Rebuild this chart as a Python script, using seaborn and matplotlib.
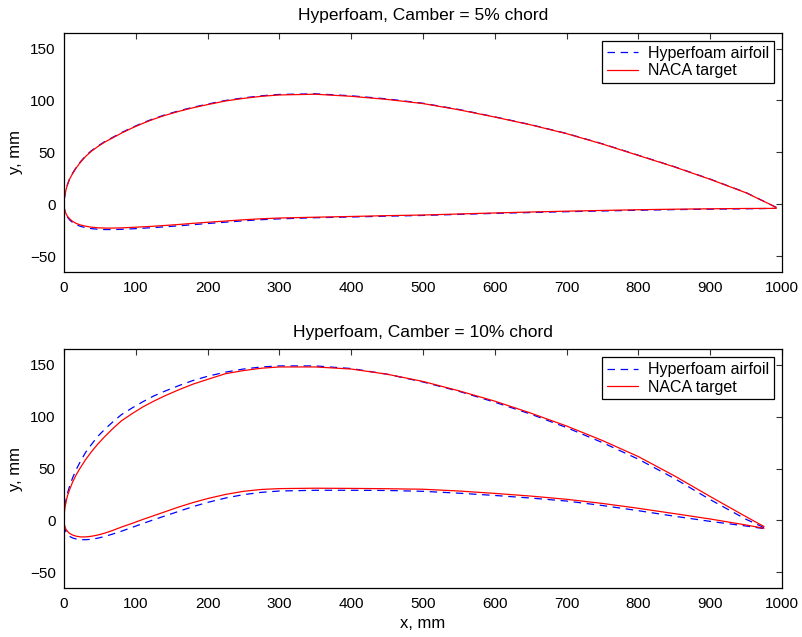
import numpy as np
import pandas as pd
import matplotlib
matplotlib.use("Agg")
import matplotlib.pyplot as plt
import seaborn as sns

# ---------------- data ----------------
titles = ["Hyperfoam, Camber = 5% chord", "Hyperfoam, Camber = 10% chord"]
series_names = ["Hyperfoam airfoil", "NACA target"]

# Camber 5 %  (x stations along chord, mm)
x5 = [0, 0.5, 1.5, 3, 5, 8, 12, 17, 23, 30, 38, 47, 57, 68, 80, 95, 110, 125, 140, 160,
      180, 200, 225, 250, 275, 300, 350, 400, 450, 500, 550, 600, 650, 700, 750, 800,
      850, 900, 950, 992]
naca5_upper = [0, 5.5, 10, 14.5, 19, 24.5, 29.5, 35, 40.5, 46, 51, 55.5, 60, 64, 68.5, 73.5,
               78, 82, 85.5, 89.5, 93, 96, 99.5, 102, 104, 105.3, 106, 104, 101, 97, 91, 84,
               76.5, 68, 58, 47, 36, 24, 11, -3]
hyper5_upper = [0, 5.5, 10.2, 14.8, 19.4, 25, 30, 35.5, 41, 46.5, 51.5, 56, 60.5, 64.5, 69,
                74, 78.5, 82.5, 86, 90, 93.5, 96.5, 100, 102.5, 104.5, 105.8, 106.4, 104.5,
                101.5, 97.3, 91.3, 84.2, 76.7, 68.2, 58.2, 47.2, 36.2, 24.2, 11.2, -3]
naca5_lower = [0, -4, -6.8, -9.5, -11.8, -14.2, -16.5, -18.5, -20, -21.2, -22.1, -22.7, -23,
               -23, -22.8, -22.3, -21.8, -21.2, -20.5, -19.5, -18.4, -17.4, -16.2, -15, -14,
               -13.3, -12.5, -11.8, -11, -10.4, -9.4, -8.4, -7.5, -6.7, -6, -5.3, -4.8,
               -4.4, -4.1, -4]
hyper5_lower = [0, -4.3, -7.3, -10.2, -12.6, -15.2, -17.6, -19.7, -21.3, -22.6, -23.5, -24.1,
                -24.4, -24.4, -24.2, -23.7, -23.1, -22.5, -21.8, -20.8, -19.7, -18.6, -17.3,
                -16, -14.9, -14.1, -13, -12.3, -11.5, -10.8, -9.8, -8.8, -8, -7.2, -6.5,
                -5.8, -5.2, -4.8, -4.4, -4]

# Camber 10 %
x10 = [0, 0.5, 1.5, 3, 5, 8, 12, 17, 23, 30, 38, 47, 57, 68, 80, 95, 110, 125, 140, 160,
       180, 200, 225, 250, 275, 300, 350, 400, 450, 500, 550, 600, 650, 700, 750, 800,
       850, 900, 950, 975]
naca10_upper = [0, 7.5, 13, 18.5, 24, 30, 37, 44, 51, 58.5, 66, 73.5, 81, 88.5, 96, 103,
                109.5, 115, 120, 126, 131.5, 136, 141.5, 144.5, 146.8, 148, 148, 146, 141,
                134, 125, 115, 103.5, 91, 77, 61.5, 43, 23, 3.5, -6]
hyper10_upper = [0, 8, 14.5, 20.5, 26.5, 33.5, 41, 49, 57, 65.5, 73, 81, 88, 95, 102, 108.5,
                 114.5, 120, 124.5, 130, 135, 139, 143, 146, 148, 149, 149, 146.5, 141,
                 133.5, 124.5, 114, 102.5, 89.5, 75, 59, 40.5, 20, 1, -7]
naca10_lower = [0, -4, -6.8, -9, -10.8, -12.7, -14.2, -15.3, -16, -16, -15.4, -14.2, -12.3,
                -9.7, -6.5, -2.9, 0.9, 4.5, 8.1, 12.9, 17.2, 21, 25, 28, 29.8, 30.6, 31,
                30.8, 30.5, 30, 28.3, 26, 23.4, 20.3, 16.3, 11.6, 6.5, 1.3, -4.5, -7.7]
hyper10_lower = [0, -5, -9, -11.5, -13.5, -15.6, -17, -18, -18.6, -18.7, -18.3, -17.2, -15.5,
                 -13.2, -10.5, -6.8, -3, 0.6, 4.1, 8.7, 13.3, 17.3, 21.5, 24.8, 27, 28.3, 29,
                 29, 28.8, 28, 26.2, 24, 21.5, 18.6, 14.3, 9.3, 4, -1, -5.5, -8]

x_ticks = [0, 100, 200, 300, 400, 500, 600, 700, 800, 900, 1000]
y_ticks = [-50, 0, 50, 100, 150]


def contour(xs, upper, lower):
    # trailing edge -> leading edge along the upper surface, then back along the lower
    xx = list(xs[::-1]) + list(xs[1:])
    yy = list(upper[::-1]) + list(lower[1:])
    return xx, yy


def frame(xs, hyp_u, hyp_l, naca_u, naca_l):
    rows = []
    for name, (u, l) in zip(series_names, [(hyp_u, hyp_l), (naca_u, naca_l)]):
        xx, yy = contour(xs, u, l)
        for i, (a, b) in enumerate(zip(xx, yy)):
            rows.append({"x": a, "y": b, "series": name, "order": i})
    return pd.DataFrame(rows)


panels = [
    frame(x5, hyper5_upper, hyper5_lower, naca5_upper, naca5_lower),
    frame(x10, hyper10_upper, hyper10_lower, naca10_upper, naca10_lower),
]

# ---------------- style ----------------
sns.set_style("white")
plt.rcParams["font.family"] = ["Liberation Sans", "DejaVu Sans"]
plt.rcParams["xtick.direction"] = "in"
plt.rcParams["ytick.direction"] = "in"
plt.rcParams["text.color"] = "black"
plt.rcParams["axes.labelcolor"] = "black"
plt.rcParams["xtick.color"] = "black"
plt.rcParams["ytick.color"] = "black"

fig = plt.figure(figsize=(8.03, 6.37), dpi=100)
positions = [
    [0.0797, 0.5735, 0.8941, 0.3747],
    [0.0797, 0.0774, 0.8941, 0.3742],
]

palette = {"Hyperfoam airfoil": "#0000ff", "NACA target": "#ff0000"}
dashes = {"Hyperfoam airfoil": (6, 4.5), "NACA target": ""}

for k, df in enumerate(panels):
    ax = fig.add_axes(positions[k])
    sns.lineplot(data=df, x="x", y="y", hue="series", style="series",
                 palette=palette, dashes=dashes, hue_order=series_names,
                 style_order=series_names, sort=False, estimator=None,
                 linewidth=0.9, ax=ax)
    ax.set_xlim(0, 1000)
    ax.set_ylim(-65, 165)
    ax.set_xticks(x_ticks)
    ax.set_yticks(y_ticks)
    ax.tick_params(axis="both", which="both", direction="in", length=4, width=0.8,
                   top=True, right=True, labelsize=11, color="#333333",
                   labelcolor="black")
    ax.tick_params(axis="x", pad=7)
    ax.tick_params(axis="y", pad=6)
    for sp in ax.spines.values():
        sp.set_color("black")
        sp.set_linewidth(0.9)
    ax.set_title(titles[k], fontsize=12.5, pad=9, color="black")
    ax.set_ylabel("y, mm", fontsize=12, labelpad=5, color="black")
    if k == 1:
        ax.set_xlabel("x, mm", fontsize=12, labelpad=3, color="black")
    else:
        ax.set_xlabel("")
    handles, labels = ax.get_legend_handles_labels()
    leg = ax.legend(handles, labels, loc="upper right", fontsize=11.5, frameon=True,
                    fancybox=False, shadow=False, framealpha=1, edgecolor="black",
                    handlelength=2.0, handletextpad=0.6, borderpad=0.3,
                    labelspacing=0.15, borderaxespad=0.5)
    for t in leg.get_texts():
        t.set_color("black")
    leg.get_frame().set_linewidth(0.9)

fig.savefig("out.png", dpi=100, facecolor="white")
